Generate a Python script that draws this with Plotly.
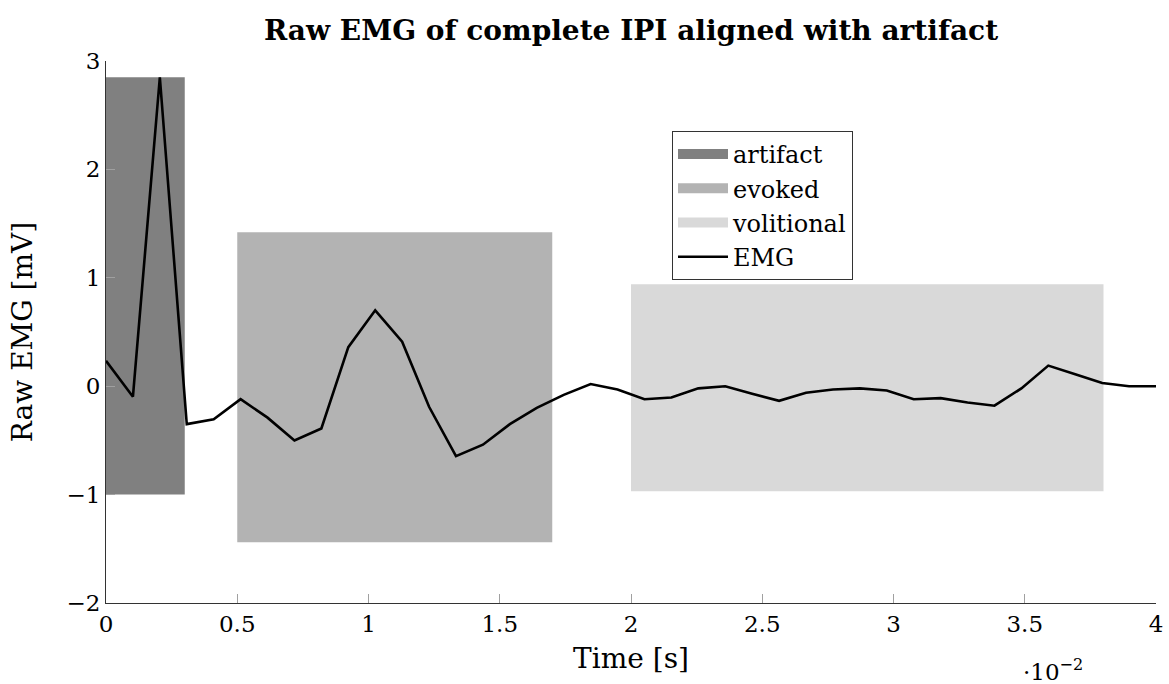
import plotly.graph_objects as go

# ---- data ----
# time in units of 1e-2 s
time_e2 = [0.0000, 0.1026, 0.2051, 0.3077, 0.4103, 0.5128, 0.6154, 0.7179, 0.8205, 0.9231,
           1.0256, 1.1282, 1.2308, 1.3333, 1.4359, 1.5385, 1.6410, 1.7436, 1.8462, 1.9487,
           2.0513, 2.1538, 2.2564, 2.3590, 2.4615, 2.5641, 2.6667, 2.7692, 2.8718, 2.9744,
           3.0769, 3.1795, 3.2821, 3.3846, 3.4872, 3.5897, 3.6923, 3.7949, 3.8974, 4.0000]
emg_mv = [0.235, -0.097, 2.85, -0.35, -0.305, -0.12, -0.29, -0.50, -0.39, 0.36,
          0.70, 0.41, -0.19, -0.645, -0.54, -0.35, -0.20, -0.08, 0.02, -0.03,
          -0.12, -0.105, -0.02, 0.0, -0.07, -0.135, -0.06, -0.03, -0.02, -0.04,
          -0.12, -0.11, -0.15, -0.18, -0.02, 0.19, 0.11, 0.03, 0.0, 0.0]

region_names = ["artifact", "evoked", "volitional"]
region_x0 = [0.0, 0.5, 2.0]
region_x1 = [0.3, 1.7, 3.8]
region_y0 = [-1.0, -1.44, -0.97]
region_y1 = [2.85, 1.42, 0.94]
region_colors = ["#808080", "#b3b3b3", "#d9d9d9"]

x_ticks = [0, 0.5, 1, 1.5, 2, 2.5, 3, 3.5, 4]
x_ticktext = ["0", "0.5", "1", "1.5", "2", "2.5", "3", "3.5", "4"]
y_ticks = [-2, -1, 0, 1, 2, 3]
y_ticktext = ["\u22122", "\u22121", "0", "1", "2", "3"]

FONT = "DejaVu Serif"

fig = go.Figure()
for name, x0, x1, y0, y1, col in zip(region_names, region_x0, region_x1,
                                     region_y0, region_y1, region_colors):
    # the filled region itself
    fig.add_trace(go.Scatter(
        x=[x0, x1, x1, x0, x0], y=[y0, y0, y1, y1, y0],
        mode="lines", fill="toself", fillcolor=col,
        line=dict(width=0, color=col), name=name, legendgroup=name,
        showlegend=False, hoverinfo="skip"))
    # legend entry for it (no data)
    fig.add_trace(go.Scatter(
        x=[None], y=[None], mode="lines", name=name, legendgroup=name,
        line=dict(width=15, color=col), showlegend=True))

fig.add_trace(go.Scatter(x=time_e2, y=emg_mv, mode="lines", name="EMG",
                         line=dict(color="black", width=2.6)))

fig.update_layout(
    template="none",
    width=1169, height=684,
    margin=dict(l=106, r=13, t=61, b=81),
    paper_bgcolor="white", plot_bgcolor="white",
    font=dict(family=FONT, size=23, color="black"),
    title=dict(text="<b>Raw EMG of complete IPI aligned with artifact</b>",
               x=(106 + 1156) / 2 / 1169, xanchor="center", y=1 - 30 / 684, yanchor="middle",
               font=dict(family=FONT, size=28)),
    xaxis=dict(range=[0, 4], tickvals=x_ticks, ticktext=x_ticktext,
               showline=True, linecolor="#333333", linewidth=1,
               ticks="inside", ticklen=9, tickcolor="#a0a0a0", tickwidth=1,
               showgrid=False, zeroline=False, automargin=False,
               title=dict(text="Time [s]", standoff=12)),
    yaxis=dict(range=[-2, 3], tickvals=y_ticks, ticktext=y_ticktext,
               showline=True, linecolor="#333333", linewidth=1,
               ticks="inside", ticklen=9, tickcolor="#a0a0a0", tickwidth=1,
               showgrid=False, zeroline=False, automargin=False,
               title=dict(text="Raw EMG [mV]", standoff=25)),
    legend=dict(x=(672 - 106) / 1050, y=(603 - 131) / 542, xanchor="left", yanchor="top",
                bgcolor="white", bordercolor="#333333", borderwidth=1,
                font=dict(family=FONT, size=24), tracegroupgap=0, itemwidth=50),
    showlegend=True,
)

fig.add_annotation(text="\u00b710<sup>\u22122</sup>", x=(1053 - 106) / 1050, y=-(670 - 603) / 542,
                   xref="paper", yref="paper", showarrow=False,
                   font=dict(family=FONT, size=23), xanchor="center", yanchor="middle")

fig.write_html("out.html")
